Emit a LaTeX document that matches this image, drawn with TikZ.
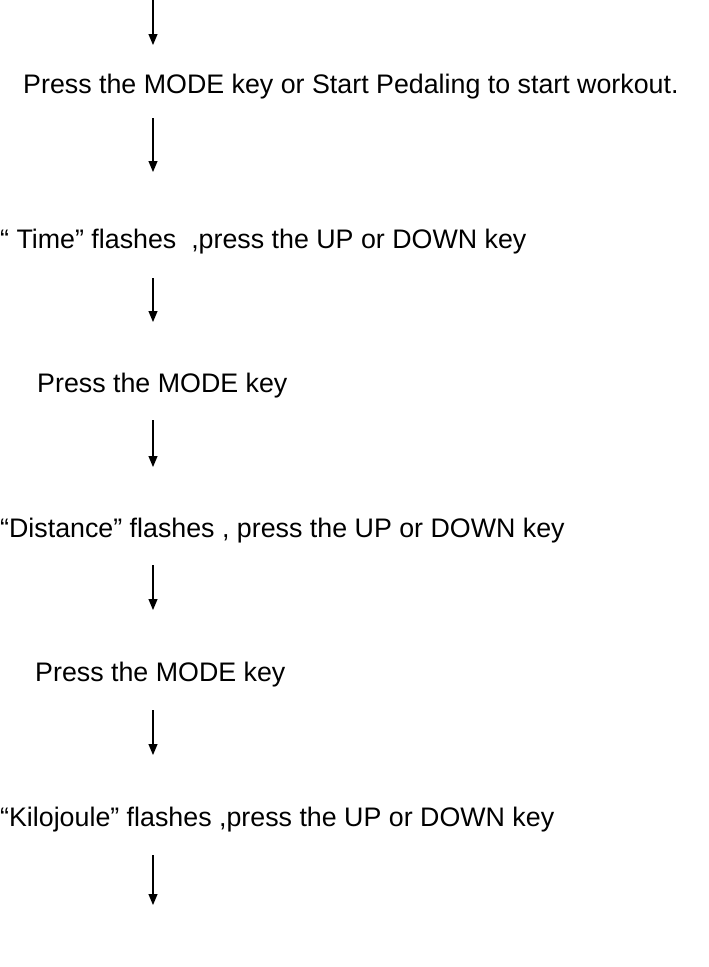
\documentclass[tikz,border=0pt]{standalone}
\usepackage{fontspec}
\setmainfont{Liberation Sans}
\usetikzlibrary{arrows.meta}
\begin{document}
\begin{tikzpicture}[x=1pt,y=-1pt,
  lbl/.style={anchor=west,inner sep=0pt,font=\fontsize{26.8}{30}\selectfont},
  arr/.style={line width=1.1pt,-{Triangle[length=11pt,width=9pt]}}]
\useasboundingbox (0,0) rectangle (709,967);
\node[lbl] (t1) at (23,87) {Press the MODE key or Start Pedaling to start workout.};
\node[lbl] (t2) at (0,242) {“ Time” flashes\ \ ,press the UP or DOWN key};
\node[lbl] (t3) at (37,386) {Press the MODE key};
\node[lbl] (t4) at (0,531) {“Distance” flashes , press the UP or DOWN key};
\node[lbl] (t5) at (35,675) {Press the MODE key};
\node[lbl] (t6) at (0,820) {“Kilojoule”\ flashes\ ,press the UP or DOWN key};
\coordinate (e) at (153,905);
\draw[arr] (153,0) -- (153,45);
\draw[arr] (153,118) -- (153,172);
\draw[arr] (153,278) -- (153,322);
\draw[arr] (153,420) -- (153,467);
\draw[arr] (153,565) -- (153,610);
\draw[arr] (153,710) -- (153,755);
\draw[arr] (153,855) -- (e);
\end{tikzpicture}
\end{document}
